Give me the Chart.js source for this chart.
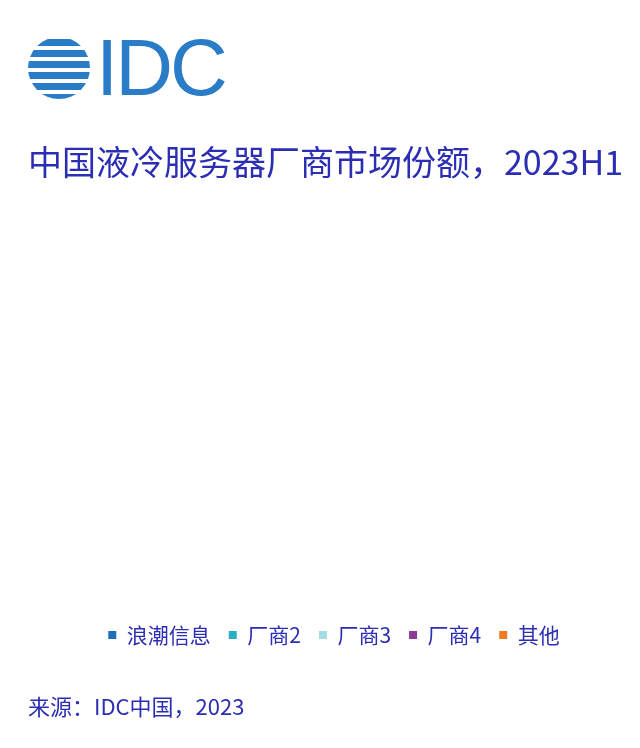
<!DOCTYPE html>
<html>
<head>
<meta charset="utf-8">
<script src="https://cdn.jsdelivr.net/npm/chart.js@4.4.0/dist/chart.umd.min.js"></script>
<style>
  body { margin: 0; background: #fff; }
  #wrap { position: relative; width: 640px; height: 748px; }
  #logo { position: absolute; left: 28px; top: 36px; height: 64px; display: flex; align-items: center; }
  #globe { width: 62px; height: 62px; border-radius: 50%;
    background: repeating-linear-gradient(to bottom, #fff 0 2px, #2a7cc7 2px 9px, #fff 9px 11px); }
  #logo span { font-family: "Liberation Sans", sans-serif; font-size: 80px; color: #2a7cc7;
    margin-left: 6px; line-height: 64px; letter-spacing: -3px; }
</style>
</head>
<body>
<div id="wrap">
  <canvas id="shareChart" width="640" height="748"></canvas>
  <div id="logo"><div id="globe"></div><span>IDC</span></div>
</div>
<script>
// vendors in the legend
var vendors = ['浪潮信息', '厂商2', '厂商3', '厂商4', '其他'];
// no slice is visible in the reference picture, so no share values are drawn
var shares = [];
var vendorColors = ['#1f6db4', '#2aaec4', '#a6dce6', '#8e3b95', '#f07b20'];

var textBlue = '#2b2db3';
var cjk = '"Noto Sans CJK SC", "Noto Sans", sans-serif';

var shareChart = new Chart(document.getElementById('shareChart'), {
  type: 'pie',
  data: {
    labels: vendors,
    datasets: [{
      data: shares,
      backgroundColor: vendorColors,
      borderWidth: 0
    }]
  },
  options: {
    responsive: false,
    animation: false,
    layout: { padding: { left: 28 } },
    plugins: {
      title: {
        display: true,
        text: '中国液冷服务器厂商市场份额，2023H1',
        align: 'start',
        color: textBlue,
        font: { family: cjk, size: 34, weight: 'normal' },
        padding: { top: 142, bottom: 10 }
      },
      subtitle: {
        display: true,
        position: 'bottom',
        text: '来源：IDC中国，2023',
        align: 'start',
        color: textBlue,
        font: { family: cjk, size: 22, weight: 'normal' },
        padding: { top: 38, bottom: 28 }
      },
      legend: {
        position: 'bottom',
        labels: {
          color: textBlue,
          font: { family: cjk, size: 21 },
          boxWidth: 8,
          boxHeight: 8,
          padding: 18,
          generateLabels: function (chart) {
            return vendors.map(function (name, i) {
              return { text: name, fillStyle: vendorColors[i], strokeStyle: vendorColors[i],
                lineWidth: 0, fontColor: textBlue, hidden: false, index: i };
            });
          }
        }
      },
      tooltip: { enabled: false }
    }
  }
});
</script>
</body>
</html>
